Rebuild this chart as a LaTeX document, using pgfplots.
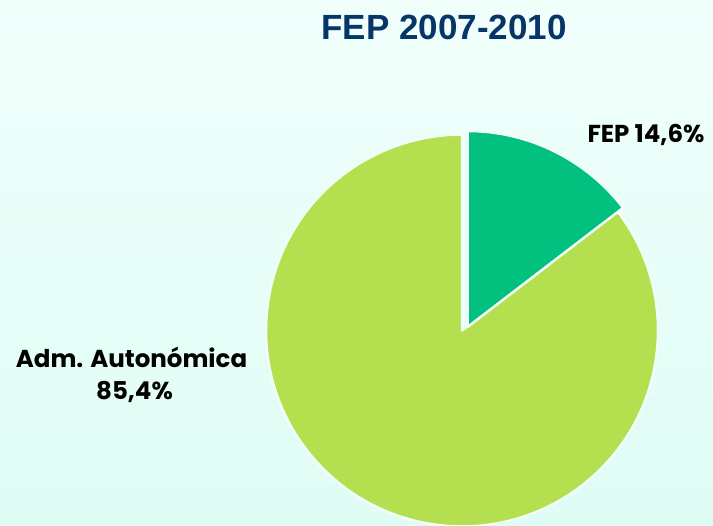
\documentclass[border=0pt]{standalone}
\usepackage{pgfplots}
\pgfplotsset{compat=1.18}
\usepackage{pgfplotstable}
\usepackage{fontspec}
\setmainfont{Poppins}
\newfontfamily\titlefont{Liberation Sans}
\definecolor{bgTop}{HTML}{F1FFFB}
\definecolor{bgBot}{HTML}{DFFDF5}
\definecolor{fepGreen}{HTML}{02C17F}
\definecolor{admLime}{HTML}{B4E050}
\definecolor{titleNavy}{HTML}{063568}

% share of each slice (%)
\pgfplotstableread[col sep=comma]{
name,value
FEP,14.6
Adm,85.4
}\pietable

\begin{document}
\begin{tikzpicture}
\pgfplotstablegetelem{0}{value}\of\pietable \let\fepval\pgfplotsretval
\pgfplotstablegetelem{1}{value}\of\pietable \let\admval\pgfplotsretval
\pgfmathsetmacro{\split}{90-3.6*\fepval}
\pgfmathsetmacro{\admend}{\split-3.6*\admval}
\begin{axis}[
    width=713pt, height=526pt, scale only axis,
    xmin=0, xmax=713, ymin=0, ymax=526,
    hide axis, clip=false,
]
    \coordinate (ll) at (axis cs:0,0);
    \coordinate (ur) at (axis cs:713,526);
    \fill[top color=bgTop, bottom color=bgBot] (axis cs:0,0) rectangle (axis cs:713,526);
    % big slice
    \filldraw[fill=admLime, draw=bgTop, line width=2.5pt, line join=round]
        (axis cs:462,195.5) -- ++(\split:196) arc[start angle=\split, end angle=\admend, radius=196] -- cycle;
    % exploded FEP slice
    \filldraw[fill=fepGreen, draw=bgTop, line width=2.5pt, line join=round]
        (axis cs:467.5,199) -- ++(90:196) arc[start angle=90, end angle=\split, radius=196] -- cycle;
    \node[anchor=base, inner sep=0pt, font=\titlefont\bfseries\fontsize{35}{40}\selectfont, text=titleNavy] at (axis cs:444,486.5) {FEP 2007-2010};
    \node[anchor=base, inner sep=0pt, font=\bfseries\fontsize{24.5}{28}\selectfont, text=black] at (axis cs:646,383) {FEP 14,6\%};
    \node[anchor=base, inner sep=0pt, font=\bfseries\fontsize{24.5}{28}\selectfont, text=black] at (axis cs:131.5,158) {Adm. Autonómica};
    \node[anchor=base, inner sep=0pt, font=\bfseries\fontsize{24.5}{28}\selectfont, text=black] at (axis cs:134.5,126) {85,4\%};
\end{axis}
\pgfresetboundingbox
\useasboundingbox (ll) rectangle (ur);
\end{tikzpicture}
\end{document}
